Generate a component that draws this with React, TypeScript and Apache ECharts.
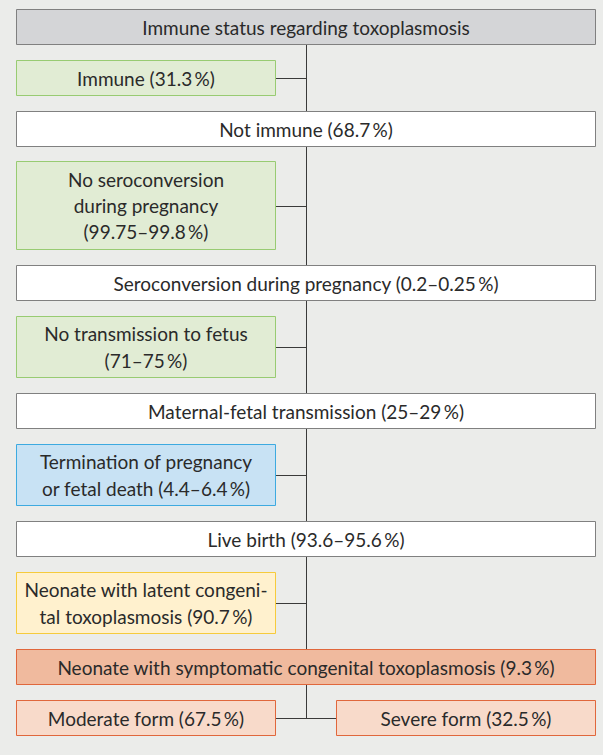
import React, { useEffect, useRef } from "react";
import * as echarts from "echarts";

// Flowchart content (top to bottom)
const nodeLabels: string[] = [
  "Immune status regarding toxoplasmosis",
  "Immune (31.3\u2009%)",
  "Not immune (68.7\u2009%)",
  "No seroconversion\nduring pregnancy\n(99.75\u201399.8\u2009%)",
  "Seroconversion during pregnancy (0.2\u20130.25\u2009%)",
  "No transmission to fetus\n(71\u201375\u2009%)",
  "Maternal-fetal transmission (25\u201329\u2009%)",
  "Termination of pregnancy\nor fetal death (4.4\u20136.4\u2009%)",
  "Live birth (93.6\u201395.6\u2009%)",
  "Neonate with latent congeni-\ntal toxoplasmosis (90.7\u2009%)",
  "Neonate with symptomatic congenital toxoplasmosis (9.3\u2009%)",
];
// "full" = full-width box on the main trunk, "side" = branch box on the left
const nodeSpans: string[] = ["full", "side", "full", "side", "full", "side", "full", "side", "full", "side", "full"];
const nodeKinds: string[] = ["title", "green", "white", "green", "white", "green", "white", "blue", "white", "yellow", "orange"];
const leafLabels: string[] = ["Moderate form (67.5\u2009%)", "Severe form (32.5\u2009%)"];

const palette: Record<string, { fill: string; stroke: string }> = {
  title: { fill: "#D4D5D7", stroke: "#808080" },
  white: { fill: "#FFFFFF", stroke: "#808080" },
  green: { fill: "#E1ECD4", stroke: "#98CB72" },
  blue: { fill: "#C8E2F4", stroke: "#3DAAE0" },
  yellow: { fill: "#FFF1CE", stroke: "#F6CB3C" },
  orange: { fill: "#F0BA9E", stroke: "#E0673C" },
  light: { fill: "#F8DACA", stroke: "#E0673C" },
};

export default function App() {
  const ref = useRef<HTMLDivElement>(null);
  useEffect(() => {
    document.body.style.margin = "0";
    if (!ref.current) return;
    const chart = echarts.init(ref.current, null, { renderer: "svg" });

    const L = 16, R = 596, SIDE_R = 276, TRUNK = 306.5;
    const H1 = 35.7, GAP = 15.1, EXTRA = 26.4;
    const FONT = "19px Lato";
    const TXT = "#2A2A2A";
    const LINE = "#3A3A3A";

    const boxes: any[] = [];
    const texts: any[] = [];
    const lines: any[] = [];
    let y = 9;
    let trunkTop = 0, trunkBottom = 0, lastBottom = 0;
    nodeLabels.forEach((label, i) => {
      const n = label.split("\n").length;
      const h = H1 + EXTRA * (n - 1);
      const side = nodeSpans[i] === "side";
      const x0 = L, x1 = side ? SIDE_R : R;
      const c = palette[nodeKinds[i]];
      boxes.push({
        type: "rect",
        shape: { x: x0 + 0.5, y: Math.round(y) + 0.5, width: x1 - x0 - 1, height: Math.round(h) - 1 },
        style: { fill: c.fill, stroke: c.stroke, lineWidth: 1 },
        z: 10,
      });
      texts.push({
        type: "text",
        style: {
          text: label,
          x: (x0 + x1) / 2,
          y: Math.round(y) + Math.round(h) / 2,
          align: "center",
          verticalAlign: "middle",
          font: FONT,
          lineHeight: EXTRA,
          fill: TXT,
        },
        z: 20,
      });
      if (i === 0) trunkTop = y + h;
      if (side) {
        const cy = Math.round(y + h / 2) + 0.5;
        lines.push({ type: "line", shape: { x1: SIDE_R, y1: cy, x2: TRUNK, y2: cy }, style: { stroke: LINE, lineWidth: 1 }, z: 5 });
      }
      trunkBottom = y;
      lastBottom = y + h;
      y += h + GAP;
    });
    lines.push({ type: "line", shape: { x1: TRUNK, y1: trunkTop, x2: TRUNK, y2: trunkBottom }, style: { stroke: LINE, lineWidth: 1 }, z: 5 });

    // Leaves
    const leafY = Math.round(y);
    const leafBoxes = [
      { x0: L, x1: SIDE_R },
      { x0: 336, x1: R },
    ];
    leafLabels.forEach((label, i) => {
      const b = leafBoxes[i];
      const c = palette.light;
      boxes.push({
        type: "rect",
        shape: { x: b.x0 + 0.5, y: leafY + 0.5, width: b.x1 - b.x0 - 1, height: Math.round(H1) - 1 },
        style: { fill: c.fill, stroke: c.stroke, lineWidth: 1 },
        z: 10,
      });
      texts.push({
        type: "text",
        style: {
          text: label,
          x: (b.x0 + b.x1) / 2,
          y: leafY + Math.round(H1) / 2,
          align: "center",
          verticalAlign: "middle",
          font: FONT,
          fill: TXT,
        },
        z: 20,
      });
    });
    const joinY = leafY + Math.round(H1 / 2) + 0.5;
    lines.push({ type: "line", shape: { x1: TRUNK, y1: lastBottom, x2: TRUNK, y2: joinY }, style: { stroke: LINE, lineWidth: 1 }, z: 5 });
    lines.push({ type: "line", shape: { x1: SIDE_R, y1: joinY, x2: 336, y2: joinY }, style: { stroke: LINE, lineWidth: 1 }, z: 5 });

    chart.setOption({
      animation: false,
      backgroundColor: "#EBECEA",
      graphic: [...lines, ...boxes, ...texts],
    });
    return () => chart.dispose();
  }, []);
  return <div ref={ref} style={{ width: 603, height: 755 }} />;
}
